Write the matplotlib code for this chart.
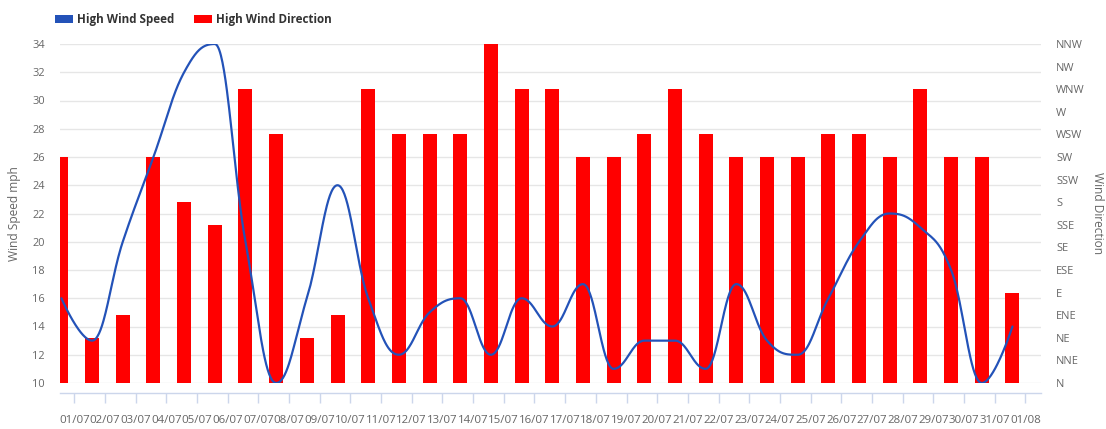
import numpy as np
import matplotlib
matplotlib.use("Agg")
import matplotlib.pyplot as plt
from matplotlib.patches import Rectangle

plt.rcParams['font.family'] = ['Open Sans', 'DejaVu Sans']

# ---------------- data ----------------
dates = ["01/07", "02/07", "03/07", "04/07", "05/07", "06/07", "07/07", "08/07",
         "09/07", "10/07", "11/07", "12/07", "13/07", "14/07", "15/07", "16/07",
         "17/07", "18/07", "19/07", "20/07", "21/07", "22/07", "23/07", "24/07",
         "25/07", "26/07", "27/07", "28/07", "29/07", "30/07", "31/07", "01/08"]

wind_speed = [16, 13, 20, 26, 32, 34, 20, 10, 16, 24, 16, 12, 15, 16, 12, 16,
              14, 17, 11, 13, 13, 11, 17, 13, 12, 16, 20, 22, 21, 18, 10, 14]

# compass direction (degrees) of the high gust
wind_dir = [225, 45, 67.5, 225, 180, 157.5, 292.5, 247.5, 45, 67.5, 292.5, 247.5,
            247.5, 247.5, 337.5, 292.5, 292.5, 225, 225, 247.5, 292.5, 247.5, 225,
            225, 225, 247.5, 247.5, 225, 292.5, 225, 225, 90]

compass = ["N", "NNE", "NE", "ENE", "E", "ESE", "SE", "SSE",
           "S", "SSW", "SW", "WSW", "W", "WNW", "NW", "NNW"]
compass_deg = [22.5 * i for i in range(len(compass))]

speed_ticks = list(range(10, 35, 2))

# ---------------- helpers ----------------
def spline_path(xs, ys, smoothing=1.5, n=40):
    """Highcharts-style spline through the points (bezier control points)."""
    xs = np.asarray(xs, float)
    ys = np.asarray(ys, float)
    m = len(xs)
    lcx, lcy = xs.copy(), ys.copy()
    rcx, rcy = xs.copy(), ys.copy()
    d = smoothing + 1
    for i in range(1, m - 1):
        px, py = xs[i], ys[i]
        lx, ly = xs[i - 1], ys[i - 1]
        nx, ny = xs[i + 1], ys[i + 1]
        lcX = (smoothing * px + lx) / d
        lcY = (smoothing * py + ly) / d
        rcX = (smoothing * px + nx) / d
        rcY = (smoothing * py + ny) / d
        corr = 0.0
        if rcX != lcX:
            corr = (rcY - lcY) * (rcX - px) / (rcX - lcX) + py - rcY
        lcY += corr
        rcY += corr
        if lcY > ly and lcY > py:
            lcY = max(ly, py); rcY = 2 * py - lcY
        elif lcY < ly and lcY < py:
            lcY = min(ly, py); rcY = 2 * py - lcY
        if rcY > ny and rcY > py:
            rcY = max(ny, py); lcY = 2 * py - rcY
        elif rcY < ny and rcY < py:
            rcY = min(ny, py); lcY = 2 * py - rcY
        lcx[i], lcy[i], rcx[i], rcy[i] = lcX, lcY, rcX, rcY
    t = np.linspace(0, 1, n)[:, None]
    out = [np.array([[xs[0], ys[0]]])]
    for i in range(1, m):
        p0 = np.array([xs[i - 1], ys[i - 1]])
        p1 = np.array([rcx[i - 1], rcy[i - 1]])
        p2 = np.array([lcx[i], lcy[i]])
        p3 = np.array([xs[i], ys[i]])
        seg = ((1 - t) ** 3) * p0 + 3 * ((1 - t) ** 2) * t * p1 + 3 * (1 - t) * t ** 2 * p2 + t ** 3 * p3
        out.append(seg[1:])
    pts = np.vstack(out)
    return pts[:, 0], pts[:, 1]

# ---------------- figure ----------------
W, H = 1106, 429
DPI = 100
PX = 72.0 / DPI  # points per pixel
fig = plt.figure(figsize=(W / DPI, H / DPI), dpi=DPI)

L, R, T, B = 60, 1041, 44, 383
pos = [L / W, (H - B) / H, (R - L) / W, (B - T) / H]

blue = "#2352b8"
red = "#ff0000"
grey_txt = "#666666"
grid_c = "#e6e6e6"
axis_c = "#ccd6eb"

x = np.arange(len(dates))

# base axis: left scale, grid, x axis
ax = fig.add_axes(pos)
ax.set_xlim(-0.046, 31.93)
ax.set_ylim(speed_ticks[0], speed_ticks[-1])
ax.set_yticks(speed_ticks)
ax.yaxis.grid(True, color=grid_c, lw=1 * PX * 1.4)
ax.set_axisbelow(True)
for s in ["top", "left", "right"]:
    ax.spines[s].set_visible(False)
ax.spines["bottom"].set_position(("outward", 10 * PX))
ax.spines["bottom"].set_color(axis_c)
ax.spines["bottom"].set_linewidth(1.4 * PX)
ax.set_xticks(x + 0.42)
ax.set_xticklabels(dates)
ax.tick_params(axis="x", colors=axis_c, length=10 * PX, width=1.4 * PX,
               labelcolor=grey_txt, labelsize=11.5 * PX, pad=12 * PX)
ax.tick_params(axis="y", length=0, labelcolor=grey_txt, labelsize=11 * PX, pad=15 * PX)

# bars: right (direction) scale
ax2 = ax.twinx()
ax2.set_ylim(0, compass_deg[-1])
ax2.bar(x, wind_dir, width=0.456, color=red, linewidth=0)
ax2.set_yticks(compass_deg)
ax2.set_yticklabels(compass)
ax2.tick_params(axis="y", length=0, labelcolor=grey_txt, labelsize=11 * PX, pad=15 * PX)
for s in ax2.spines.values():
    s.set_visible(False)

# line: left scale, drawn on top
ax3 = ax.twinx()
ax3.set_ylim(speed_ticks[0], speed_ticks[-1])
sx, sy = spline_path(x, wind_speed)
ax3.plot(sx, sy, color=blue, lw=2 * PX * 1.1, solid_capstyle="round")
ax3.axis("off")

# axis titles
fig.text(15 / W, 1 - 213.5 / H, "Wind Speed mph", rotation=90, ha="center", va="center",
         color=grey_txt, fontsize=12 * PX)
fig.text(1098 / W, 1 - 213.5 / H, "Wind Direction", rotation=270, ha="center", va="center",
         color=grey_txt, fontsize=12 * PX)

# legend
def legend_item(x0, color, label):
    fig.add_artist(Rectangle((x0 / W, 1 - 22.7 / H), 18 / W, 8 / H,
                             transform=fig.transFigure, color=color, lw=0))
    fig.text((x0 + 22) / W, 1 - 19 / H, label, ha="left", va="center",
             color="#333333", fontsize=11.6 * PX, fontweight="bold")

legend_item(55, blue, "High Wind Speed")
legend_item(194, red, "High Wind Direction")

fig.savefig("out.png", dpi=DPI)
